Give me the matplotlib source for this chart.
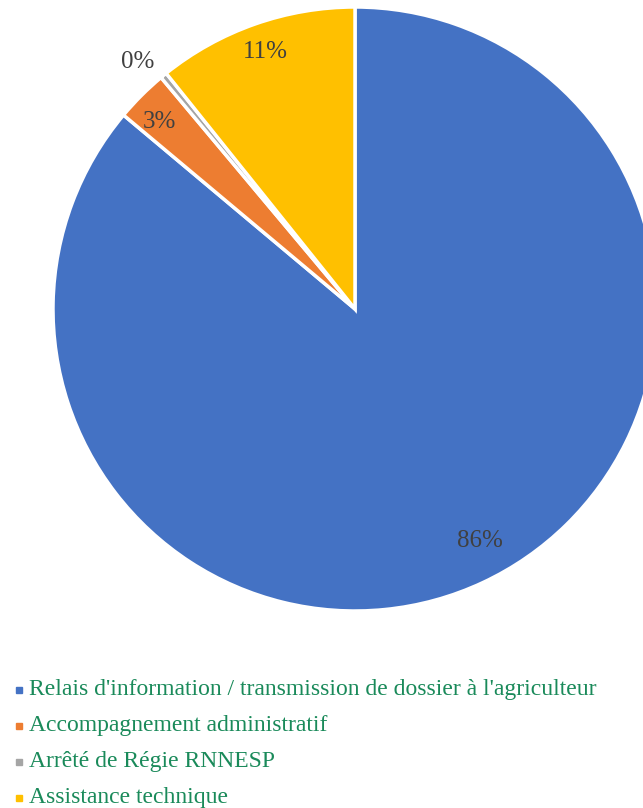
import matplotlib.pyplot as plt
from matplotlib.lines import Line2D

categories = [
    "Relais d'information / transmission de dossier à l'agriculteur",
    "Accompagnement administratif",
    "Arrêté de Régie RNNESP",
    "Assistance technique",
]
values = [86.1, 2.8, 0.35, 10.75]
colors = ["#4472C4", "#ED7D31", "#A5A5A5", "#FFC000"]

W, H = 643, 808
cx, cy, r = 355, 309, 302

fig = plt.figure(figsize=(W / 100, H / 100), dpi=100)
ax = fig.add_axes([(cx - r) / W, (H - cy - r) / H, 2 * r / W, 2 * r / H])

wedges, texts, autotexts = ax.pie(
    values,
    colors=colors,
    startangle=90,
    counterclock=False,
    autopct="%1.0f%%",
    pctdistance=0.88,
    wedgeprops=dict(edgecolor="white", linewidth=2.5),
    textprops=dict(color="#404040", fontsize=18, family="Liberation Serif"),
    radius=1,
)
ax.set_xlim(-1, 1)
ax.set_ylim(-1, 1)
ax.set_aspect("equal")
ax.axis("off")

# label spots as placed in the original chart
label_pos = [(0.414, -0.768), (-0.646, 0.619), (-0.719, 0.818), (-0.298, 0.851)]
for t, p in zip(autotexts, label_pos):
    t.set_position(p)

# legend drawn row by row
y0, step = 690, 36
for i, (lab, c) in enumerate(zip(categories, colors)):
    y = 1 - (y0 + i * step) / H
    fig.add_artist(Line2D([19 / W], [y], marker="s", linestyle="",
                          markersize=5, color=c, transform=fig.transFigure))
    fig.text(29 / W, y, lab, va="center", ha="left", fontsize=17,
             family="Liberation Serif", color="#1A8A5A")

fig.savefig("out.png", dpi=100)
